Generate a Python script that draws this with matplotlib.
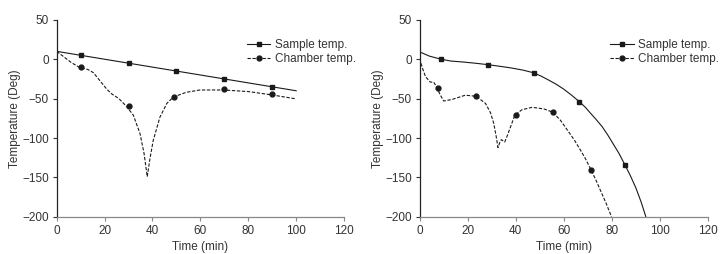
import matplotlib.pyplot as plt

plt.rcParams['font.family'] = ['Liberation Sans', 'DejaVu Sans']

# left panel
l_sample_t = [0, 10, 30, 50, 70, 90, 100]
l_sample_v = [10, 5, -5, -15, -25, -35, -40]
l_sample_mt = [10, 30, 50, 70, 90]
l_sample_mv = [5, -5, -15, -25, -35]

l_chamber_t = [0, 3, 6, 9.3, 13, 15.3, 18, 20.9, 23, 26, 29.2, 32, 34.8, 36.5, 37.8,
               39, 40.3, 43.1, 46, 48.7, 54, 59.8, 69.5, 80, 89.3, 99.4]
l_chamber_v = [10, 3, -4, -10, -13, -17, -27, -38, -44, -50, -60, -71, -94.5, -120, -149,
               -125, -103, -73.5, -56, -48, -42, -39, -39, -41, -45, -50]
l_chamber_mt = [10, 30, 49, 70, 90]
l_chamber_mv = [-10, -59, -48, -38, -44]

# right panel
r_sample_t = [0, 4, 8.9, 13, 17.6, 23, 28.2, 33, 38, 43, 47.2, 50.5, 53.8, 57, 60, 63.2, 66.4,
              69, 71, 73.5, 76, 78.3, 80.5, 83, 85.3, 87.7, 90, 92.2, 94.2]
r_sample_v = [9.3, 4, 0, -2.3, -3.4, -5, -6.8, -8.8, -11, -13.8, -17, -21.3, -26.6, -32, -38,
              -45.5, -53.6, -61, -68, -76.5, -85.6, -96, -107, -119.5, -133, -147.5, -163, -181, -200]
r_sample_mt = [9, 28.5, 47.5, 66.5, 85.3]
r_sample_mv = [0, -7, -17, -54, -134]

r_chamber_t = [0, 1, 2.4, 4.4, 5.8, 7.2, 8.5, 10, 13.5, 19, 23.5, 27.4, 29.5, 30.8, 31.8, 32.6,
               33.3, 34, 35.4, 36.6, 37.8, 39.6, 42.6, 46.8, 51.7, 55.3, 58.5, 62, 64.3, 66.5,
               69, 71.3, 73.5, 75.5, 77.8, 79.9]
r_chamber_v = [1, -10, -22, -29, -29, -36, -45, -53, -51, -45.6, -47, -56, -68, -81, -97, -112,
               -106, -102, -105, -96, -86, -71, -64, -61, -63, -67, -77, -92, -102, -113,
               -126, -140, -154, -168, -184, -200]
r_chamber_mt = [7.5, 23.5, 40, 55.5, 71.3]
r_chamber_mv = [-36, -47, -71, -67, -140]

xticks = [0, 20, 40, 60, 80, 100, 120]
yticks = [-200, -150, -100, -50, 0, 50]

fig = plt.figure(figsize=(7.24, 2.54), dpi=100)
ax1 = fig.add_axes([0.0783, 0.146, 0.397, 0.776])
ax2 = fig.add_axes([0.5797, 0.146, 0.398, 0.776])

panels = [
    (ax1, l_sample_t, l_sample_v, l_sample_mt, l_sample_mv,
     l_chamber_t, l_chamber_v, l_chamber_mt, l_chamber_mv),
    (ax2, r_sample_t, r_sample_v, r_sample_mt, r_sample_mv,
     r_chamber_t, r_chamber_v, r_chamber_mt, r_chamber_mv),
]

col = '#1a1a1a'
txt = '#333333'
fs = 8.5
for ax, st, sv, smt, smv, ct, cv, cmt, cmv in panels:
    ax.plot(st, sv, color=col, lw=0.8)
    ax.plot(smt, smv, 's', color=col, ms=3.2)
    ax.plot(ct, cv, color=col, lw=0.8, ls=(0, (3, 1.5)))
    ax.plot(cmt, cmv, 'o', color=col, ms=3.5)
    # legend proxies
    ax.plot([], [], '-s', color=col, lw=0.8, ms=3.2, label='Sample temp.')
    ax.plot([], [], 'o', color=col, lw=0.8, ms=3.5, ls=(0, (3, 1.5)), label='Chamber temp.')
    ax.legend(loc='upper left', frameon=False, fontsize=fs, handlelength=2.0,
              handletextpad=0.35, labelspacing=0.15, bbox_to_anchor=(0.645, 0.925),
              labelcolor=txt, borderaxespad=0)
    ax.set_xlim(0, 120)
    ax.set_ylim(-200, 50)
    ax.set_xticks(xticks)
    ax.set_yticks(yticks)
    ax.tick_params(labelsize=fs, colors=txt, length=3, width=0.8, pad=2.5)
    ax.spines['top'].set_visible(False)
    ax.spines['right'].set_visible(False)
    ax.spines['left'].set_color('#222222')
    ax.spines['bottom'].set_color('#888888')
    ax.spines['left'].set_linewidth(0.9)
    ax.spines['bottom'].set_linewidth(0.9)
    ax.tick_params(axis='x', color='#888888')
    ax.set_xlabel('Time (min)', fontsize=fs, color=txt, labelpad=3)
    ax.set_ylabel('Temperature (Deg)', fontsize=fs, color=txt, labelpad=1)

fig.savefig('out.png', dpi=100)
